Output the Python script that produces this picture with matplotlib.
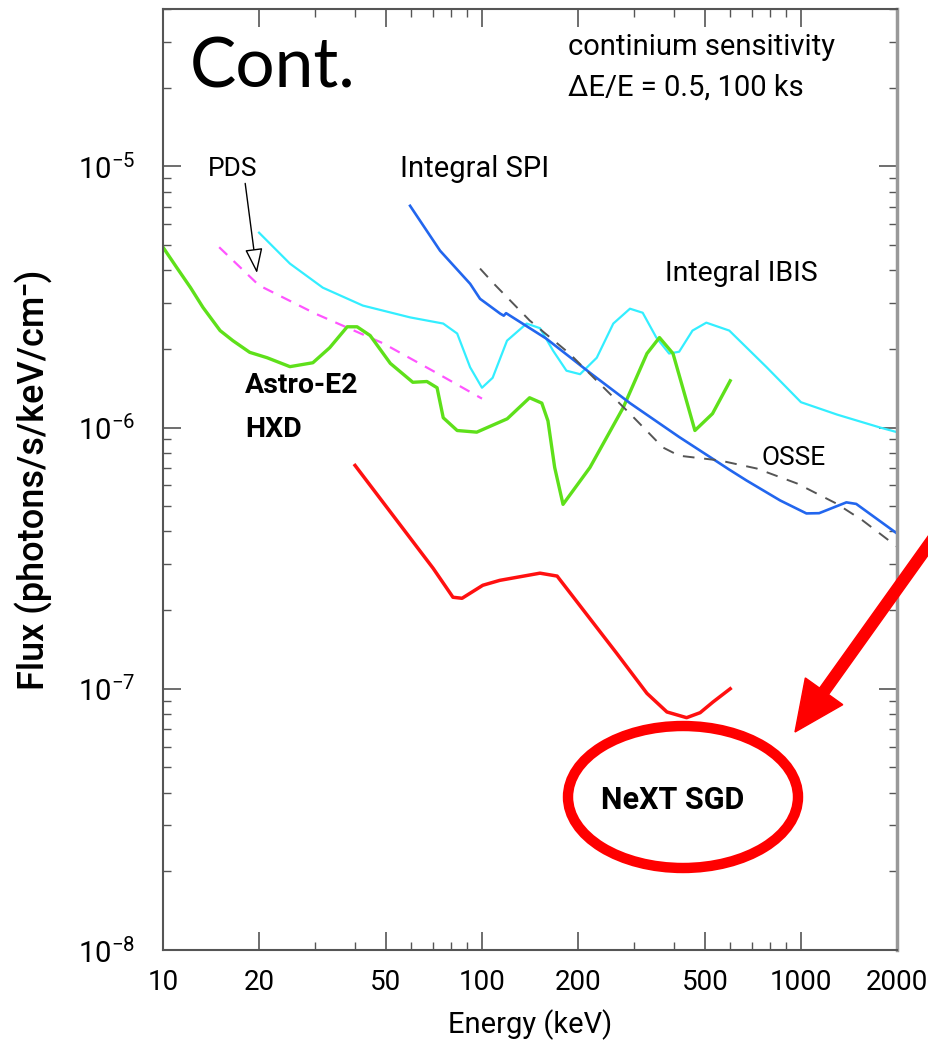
import numpy as np
import matplotlib
matplotlib.use('Agg')
import matplotlib.pyplot as plt
from matplotlib.patches import Ellipse, FancyArrow
from matplotlib.transforms import IdentityTransform
from matplotlib.ticker import NullFormatter

plt.rcParams['font.family'] = ['Roboto', 'DejaVu Sans']
plt.rcParams['mathtext.fontset'] = 'custom'
plt.rcParams['mathtext.rm'] = 'Roboto'
plt.rcParams['mathtext.bf'] = 'Roboto:bold'

# PDS (dashed magenta)
pds_e = [15, 20, 30, 49, 70, 100]
pds_f = [4.9e-6, 3.5e-6, 2.73e-6, 2.1e-6, 1.65e-6, 1.29e-6]

# Astro-E2 HXD (green)
hxd_e = [10, 11.05, 12.2, 13.35, 15.1, 16.56, 18.7, 21.2, 25, 29.5, 33.3, 37.8,
         40.6, 44.6, 51.6, 60.7, 67.2, 72.3, 75.6, 83.6, 96.3, 120, 141, 154, 161,
         169, 179.5, 218, 277, 329, 360, 397, 426, 465, 528, 600]
hxd_f = [4.9e-6, 4.09e-6, 3.43e-6, 2.88e-6, 2.35e-6, 2.15e-6, 1.94e-6, 1.85e-6,
         1.71e-6, 1.77e-6, 2.02e-6, 2.43e-6, 2.43e-6, 2.25e-6, 1.76e-6, 1.49e-6,
         1.5e-6, 1.42e-6, 1.09e-6, 9.74e-7, 9.6e-7, 1.08e-6, 1.3e-6, 1.24e-6,
         1.06e-6, 7.03e-7, 5.08e-7, 7.03e-7, 1.19e-6, 1.92e-6, 2.21e-6, 1.92e-6,
         1.42e-6, 9.74e-7, 1.13e-6, 1.51e-6]

# Integral IBIS (cyan)
ibis_e = [20, 25, 31.7, 42.3, 59.5, 75.6, 83.6, 91.8, 100, 108, 119.8, 138, 152,
          167, 184, 203, 229, 258, 291, 319, 352, 386, 415, 457, 505, 596, 781,
          1000, 1300, 1770, 2000]
ibis_f = [5.57e-6, 4.24e-6, 3.43e-6, 2.93e-6, 2.64e-6, 2.5e-6, 2.29e-6, 1.7e-6,
          1.42e-6, 1.55e-6, 2.15e-6, 2.5e-6, 2.4e-6, 1.97e-6, 1.65e-6, 1.6e-6,
          1.85e-6, 2.5e-6, 2.85e-6, 2.75e-6, 2.21e-6, 1.92e-6, 1.95e-6, 2.35e-6,
          2.52e-6, 2.35e-6, 1.7e-6, 1.25e-6, 1.12e-6, 1.0e-6, 9.6e-7]

# Integral SPI (blue)
spi_e = [59.5, 73.9, 91.8, 98.6, 114, 117, 119, 159, 218, 291, 415, 528, 596,
         675, 860, 1040, 1140, 1388, 1490, 2000]
spi_f = [7.06e-6, 4.75e-6, 3.55e-6, 3.11e-6, 2.73e-6, 2.68e-6, 2.74e-6, 2.19e-6,
         1.62e-6, 1.24e-6, 9.2e-7, 7.6e-7, 6.9e-7, 6.27e-7, 5.26e-7, 4.69e-7,
         4.7e-7, 5.17e-7, 5.1e-7, 3.93e-7]

# OSSE (dashed grey)
osse_e = [98.6, 109, 141, 188, 229, 291, 369, 415, 556, 726, 971, 1290, 1560, 1940, 2000]
osse_f = [4.06e-6, 3.55e-6, 2.57e-6, 1.92e-6, 1.51e-6, 1.13e-6, 8.39e-7, 7.8e-7,
          7.48e-7, 6.97e-7, 6.11e-7, 5.12e-7, 4.41e-7, 3.6e-7, 3.5e-7]

# NeXT SGD (red)
sgd_e = [40, 70.3, 81.1, 86.6, 100.6, 113.7, 152, 172, 264, 329, 380, 438, 483, 530, 600]
sgd_f = [7.16e-7, 2.89e-7, 2.24e-7, 2.22e-7, 2.49e-7, 2.6e-7, 2.77e-7, 2.7e-7,
         1.37e-7, 9.6e-8, 8.15e-8, 7.75e-8, 8.1e-8, 8.9e-8, 1.0e-7]

x_ticks = [10, 20, 50, 100, 200, 500, 1000, 2000]
x_minor = [30, 40, 60, 70, 80, 90, 300, 400, 600, 700, 800, 900]

W, H = 929, 1040
fig = plt.figure(figsize=(W / 100, H / 100), dpi=100)
ax = fig.add_axes([163 / W, 1 - 950 / H, (897 - 163) / W, (950 - 9) / H])

ax.plot(pds_e, pds_f, color='#ff55ff', lw=1.6, dashes=(5, 4))
ax.plot(ibis_e, ibis_f, color='#33eeff', lw=1.6)
ax.plot(hxd_e, hxd_f, color='#5ee01a', lw=2.4)
ax.plot(spi_e, spi_f, color='#2266ee', lw=1.9)
ax.plot(osse_e, osse_f, color='#555555', lw=1.4, dashes=(6, 5))
ax.plot(sgd_e, sgd_f, color='#ff1010', lw=2.5)

ax.set_xscale('log')
ax.set_yscale('log')
ax.set_xlim(10, 2000)
ax.set_ylim(1e-8, 4e-5)

ax.set_xticks(x_ticks)
ax.set_xticklabels([str(t) for t in x_ticks])
ax.set_xticks(x_minor, minor=True)
ax.xaxis.set_minor_formatter(NullFormatter())
ax.set_yticks([1e-8, 1e-7, 1e-6, 1e-5])
ax.set_yticklabels([r'$10^{-8}$', r'$10^{-7}$', r'$10^{-6}$', r'$10^{-5}$'])
ax.yaxis.set_minor_formatter(NullFormatter())

ax.tick_params(which='both', direction='in', top=True, right=True, color='#555555')
ax.tick_params(which='major', length=13, width=1.2)
ax.tick_params(which='minor', length=6, width=1.0)
ax.tick_params(axis='x', which='major', labelsize=20, pad=14)
ax.tick_params(axis='y', which='major', labelsize=21, pad=20)
for side in ['left', 'bottom', 'top']:
    ax.spines[side].set_color('#555555')
    ax.spines[side].set_linewidth(1.5)
ax.spines['right'].set_color('#999999')
ax.spines['right'].set_linewidth(2.5)

ax.set_xlabel('Energy (keV)', fontsize=21, labelpad=9)
ax.set_ylabel('Flux (photons/s/keV/cm\u207b)', fontsize=26, fontweight='medium', labelpad=18)

# curve labels
ax.text(13.8, 9.8e-6, 'PDS', fontsize=19, va='center')
ax.text(55.5, 9.8e-6, 'Integral SPI', fontsize=21, va='center')
ax.text(375, 3.9e-6, 'Integral IBIS', fontsize=20.5, va='center')
ax.text(18.1, 1.45e-6, 'Astro-E2', fontsize=20.5, fontweight='bold', va='center')
ax.text(18.1, 9.8e-7, 'HXD', fontsize=20.5, fontweight='bold', va='center')
ax.text(754, 7.65e-7, 'OSSE', fontsize=19, va='center')

ax.annotate('', xy=(19.7, 3.9e-6), xytext=(18.1, 8.6e-6),
            arrowprops=dict(arrowstyle='-|>,head_length=0.7,head_width=0.25',
                            fc='white', ec='black', lw=1.0, mutation_scale=22,
                            shrinkA=0, shrinkB=0))

fig.text(190 / W, 1 - 68 / H, 'Cont.', family='Lato', fontsize=50, va='center')
fig.text(568 / W, 1 - 47 / H, 'continium sensitivity', fontsize=21, va='center')
fig.text(568 / W, 1 - 88 / H, '\u0394E/E = 0.5, 100 ks', fontsize=21, va='center')

# red highlight: arrow, ellipse and label (figure pixels, origin bottom-left)
tail = (945, H - 522)
tip = (795, H - 732)
fig.add_artist(FancyArrow(tail[0], tail[1], tip[0] - tail[0], tip[1] - tail[1],
                          width=11, head_width=46, head_length=50,
                          length_includes_head=True, color='#ff0000',
                          transform=IdentityTransform()))
fig.add_artist(Ellipse((683 / W, 1 - 797 / H), 230 / W, 142 / H,
                       transform=fig.transFigure, fill=False,
                       edgecolor='#ff0000', lw=7.5))
fig.text(673 / W, 1 - 800 / H, 'NeXT SGD', fontsize=22, fontweight='bold',
         ha='center', va='center')

fig.savefig('out.png', dpi=100)
